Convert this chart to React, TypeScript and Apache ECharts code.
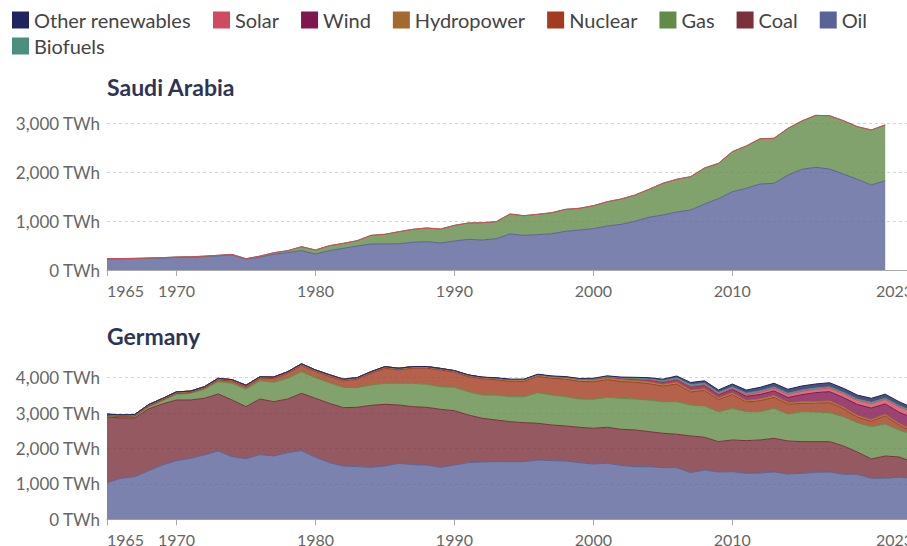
import React, { useEffect, useRef } from "react";
import * as echarts from "echarts";

const YEARS = [
  1965, 1966, 1967, 1968, 1969, 1970, 1971, 1972, 1973, 1974,
  1975, 1976, 1977, 1978, 1979, 1980, 1981, 1982, 1983, 1984,
  1985, 1986, 1987, 1988, 1989, 1990, 1991, 1992, 1993, 1994,
  1995, 1996, 1997, 1998, 1999, 2000, 2001, 2002, 2003, 2004,
  2005, 2006, 2007, 2008, 2009, 2010, 2011, 2012, 2013, 2014,
  2015, 2016, 2017, 2018, 2019, 2020, 2021, 2022, 2023,
];
const X_TICKS = [1965, 1970, 1980, 1990, 2000, 2010, 2023];

// Saudi Arabia (1965-2021), TWh
const SA_OIL = [
  225, 228, 231, 238, 245, 257, 260, 273, 290, 307,
  222, 262, 322, 356, 395, 327, 395, 443, 491, 532,
  532, 538, 566, 580, 552, 593, 627, 613, 640, 736,
  709, 722, 742, 791, 818, 845, 900, 934, 996, 1078,
  1125, 1186, 1227, 1350, 1458, 1601, 1671, 1759, 1773, 1943,
  2059, 2100, 2065, 1963, 1855, 1738, 1826,
];
const SA_GAS = [
  6, 6, 7, 7, 8, 9, 10, 10, 11, 12,
  9, 22, 32, 39, 82, 82, 102, 102, 108, 177,
  198, 245, 266, 279, 286, 320, 334, 354, 348, 409,
  402, 417, 430, 450, 444, 470, 497, 518, 538, 572,
  648, 669, 681, 736, 723, 819, 865, 926, 920, 954,
  988, 1063, 1090, 1090, 1075, 1125, 1139,
];
const SA_SOLAR = [
  0, 0, 0, 0, 0, 0, 0, 0, 0, 0,
  0, 0, 0, 0, 0, 0, 0, 0, 0, 0,
  0, 0, 0, 0, 0, 0, 0, 0, 0, 0,
  0, 0, 0, 0, 0, 0, 0, 0, 0, 0,
  0, 0, 0, 0, 0, 0, 0, 0, 0, 0,
  0, 0, 0, 0, 1, 2, 3,
];

// Germany (1965-2023), TWh
const DE_OIL = [
  1035, 1158, 1205, 1374, 1535, 1657, 1723, 1818, 1930, 1770,
  1713, 1827, 1790, 1883, 1939, 1752, 1601, 1506, 1488, 1469,
  1506, 1582, 1544, 1535, 1469, 1535, 1601, 1619, 1629, 1628,
  1628, 1676, 1657, 1647, 1600, 1563, 1582, 1525, 1487, 1487,
  1459, 1459, 1318, 1393, 1337, 1346, 1299, 1308, 1337, 1280,
  1299, 1327, 1337, 1271, 1271, 1159, 1159, 1190, 1160,
];
const DE_COAL = [
  1854, 1707, 1660, 1748, 1726, 1713, 1647, 1600, 1610, 1600,
  1469, 1571, 1533, 1515, 1620, 1666, 1675, 1648, 1675, 1751,
  1742, 1647, 1638, 1628, 1638, 1534, 1346, 1235, 1177, 1130,
  1101, 1036, 1008, 989, 999, 1008, 1017, 1017, 1037, 990,
  971, 943, 1037, 924, 857, 895, 923, 933, 951, 933,
  895, 867, 857, 800, 629, 544, 629, 570, 460,
];
const DE_GAS = [
  30, 35, 40, 60, 90, 160, 189, 254, 348, 471,
  490, 518, 547, 585, 611, 583, 584, 574, 556, 575,
  593, 612, 659, 650, 640, 659, 659, 657, 705, 706,
  735, 865, 846, 828, 799, 818, 847, 875, 874, 893,
  893, 921, 874, 884, 847, 894, 819, 800, 847, 762,
  847, 836, 818, 828, 829, 914, 904, 764, 760,
];
const DE_NUCLEAR = [
  10, 10, 15, 15, 20, 25, 20, 30, 50, 60,
  70, 70, 105, 140, 175, 170, 175, 180, 235, 330,
  425, 380, 425, 455, 470, 425, 425, 455, 430, 433,
  432, 457, 473, 494, 499, 496, 501, 473, 473, 461,
  439, 499, 368, 439, 341, 389, 269, 310, 309, 275,
  234, 250, 282, 220, 156, 150, 232, 138, 90,
];
const DE_HYDRO = [
  40, 42, 42, 44, 44, 45, 42, 42, 44, 44,
  45, 40, 44, 45, 48, 48, 50, 50, 48, 46,
  46, 46, 48, 48, 45, 45, 44, 45, 48, 50,
  50, 48, 47, 48, 50, 52, 50, 52, 45, 50,
  48, 50, 50, 50, 46, 50, 44, 50, 52, 46,
  45, 48, 48, 44, 48, 45, 46, 43, 45,
];
const DE_WIND = [
  0, 0, 0, 0, 0, 0, 0, 0, 0, 0,
  0, 0, 0, 0, 0, 0, 0, 0, 0, 0,
  0, 0, 0, 0, 0, 0, 1, 1, 2, 3,
  4, 5, 7, 12, 14, 25, 28, 40, 48, 60,
  68, 75, 100, 100, 95, 95, 120, 125, 130, 145,
  200, 250, 265, 275, 310, 330, 290, 320, 340,
];
const DE_SOLAR = [
  0, 0, 0, 0, 0, 0, 0, 0, 0, 0,
  0, 0, 0, 0, 0, 0, 0, 0, 0, 0,
  0, 0, 0, 0, 0, 0, 0, 0, 0, 0,
  0, 0, 0, 0, 0, 0, 1, 1, 2, 3,
  5, 6, 8, 12, 18, 30, 50, 65, 75, 85,
  95, 95, 100, 110, 115, 125, 125, 150, 155,
];
const DE_BIOFUELS = [
  0, 0, 0, 0, 0, 0, 0, 0, 0, 0,
  0, 0, 0, 0, 0, 0, 0, 0, 0, 0,
  0, 0, 0, 0, 0, 0, 0, 0, 0, 0,
  0, 0, 0, 1, 2, 5, 7, 10, 15, 22,
  30, 40, 45, 40, 38, 38, 38, 37, 37, 37,
  36, 35, 36, 36, 36, 36, 36, 36, 35,
];
const DE_OTHER = [
  0, 0, 0, 0, 0, 0, 0, 0, 0, 0,
  0, 0, 0, 0, 0, 0, 0, 0, 0, 0,
  0, 0, 0, 0, 0, 5, 5, 6, 8, 9,
  10, 12, 12, 13, 15, 18, 20, 25, 30, 35,
  45, 55, 65, 70, 75, 85, 90, 100, 105, 110,
  115, 115, 115, 115, 115, 115, 115, 110, 105,
];

const LEGEND_ROW1 = ["Other renewables", "Solar", "Wind", "Hydropower", "Nuclear", "Gas", "Coal", "Oil"];
const LEGEND_ROW2 = ["Biofuels"];

const COLORS: Record<string, string> = {
  "Other renewables": "#1f2460",
  Solar: "#cf4b5f",
  Wind: "#801550",
  Hydropower: "#a36a2e",
  Nuclear: "#a33b1f",
  Gas: "#618b47",
  Coal: "#7b303b",
  Oil: "#5a6398",
  Biofuels: "#4b8f80",
};

const FONT = "Lato, 'Noto Sans', sans-serif";

function makeSeries(name: string, values: number[], idx: number, stack: string) {
  return {
    type: "line",
    name,
    stack,
    xAxisIndex: idx,
    yAxisIndex: idx,
    data: values,
    showSymbol: false,
    symbol: "none",
    clip: false,
    color: COLORS[name],
    lineStyle: { width: 1, color: COLORS[name] },
    areaStyle: { color: COLORS[name], opacity: 0.8 },
    emphasis: { disabled: true },
  };
}

function fmtTWh(v: number) {
  const s = String(Math.round(v)).replace(/\B(?=(\d{3})+(?!\d))/g, ",");
  return s + " TWh";
}

const isTick = (_i: number, v: string) => X_TICKS.indexOf(Number(v)) >= 0;

function xAxisCfg(idx: number) {
  return {
    type: "category",
    gridIndex: idx,
    data: YEARS.map(String),
    boundaryGap: false,
    splitLine: { show: false },
    axisLine: { show: true, lineStyle: { color: "#aaa", width: 1 } },
    axisTick: { show: true, length: 6, lineStyle: { color: "#aaa" }, interval: isTick },
    axisLabel: {
      interval: isTick,
      fontSize: 16,
      color: "#666",
      fontFamily: FONT,
      margin: 12,
      alignMinLabel: "left",
      alignMaxLabel: "right",
    },
  };
}

function yAxisCfg(idx: number, max: number) {
  return {
    type: "value",
    gridIndex: idx,
    min: 0,
    max,
    interval: 1000,
    axisLine: { show: false },
    axisTick: { show: false },
    splitLine: { show: true, lineStyle: { type: [3, 3], color: "#d6d6d6", width: 1 } },
    axisLabel: { formatter: fmtTWh, fontSize: 17, color: "#666", fontFamily: FONT, margin: 7 },
  };
}

export default function App() {
  const ref = useRef<HTMLDivElement>(null);
  useEffect(() => {
    if (!ref.current) return;
    const chart = echarts.init(ref.current, undefined, { renderer: "svg" });
    const legendCommon = {
      orient: "horizontal",
      padding: 0,
      itemWidth: 17,
      itemHeight: 17,
      itemGap: 22,
      icon: "rect",
      selectedMode: false,
      textStyle: { fontSize: 20, color: "#444", fontFamily: FONT },
    };
    const option: any = {
      animation: false,
      backgroundColor: "#fff",
      legend: [
        {
          ...legendCommon,
          left: 12,
          top: 10,
          data: LEGEND_ROW1.map((n) => ({ name: n, itemStyle: { color: COLORS[n], opacity: 1 } })),
        },
        {
          ...legendCommon,
          left: 12,
          top: 36,
          data: LEGEND_ROW2.map((n) => ({ name: n, itemStyle: { color: COLORS[n], opacity: 1 } })),
        },
      ],
      graphic: [
        {
          type: "text",
          x: 107,
          y: 87,
          style: {
            text: "Saudi Arabia",
            fontSize: 23,
            fontWeight: "bold",
            fontFamily: FONT,
            fill: "#2d3556",
            verticalAlign: "middle",
            textVerticalAlign: "middle",
          },
        },
        {
          type: "text",
          x: 107,
          y: 336,
          style: {
            text: "Germany",
            fontSize: 23,
            fontWeight: "bold",
            fontFamily: FONT,
            fill: "#2d3556",
            verticalAlign: "middle",
            textVerticalAlign: "middle",
          },
        },
      ],
      grid: [
        { left: 107, top: 123.3, right: -6, height: 146.7, containLabel: false, outerBoundsMode: "none" },
        { left: 107, top: 377.7, right: -6, height: 141.6, containLabel: false, outerBoundsMode: "none" },
      ],
      xAxis: [xAxisCfg(0), xAxisCfg(1)],
      yAxis: [yAxisCfg(0, 3000), yAxisCfg(1, 4000)],
      series: [
        makeSeries("Oil", SA_OIL, 0, "sa"),
        makeSeries("Gas", SA_GAS, 0, "sa"),
        makeSeries("Solar", SA_SOLAR, 0, "sa"),
        makeSeries("Oil", DE_OIL, 1, "de"),
        makeSeries("Coal", DE_COAL, 1, "de"),
        makeSeries("Gas", DE_GAS, 1, "de"),
        makeSeries("Nuclear", DE_NUCLEAR, 1, "de"),
        makeSeries("Hydropower", DE_HYDRO, 1, "de"),
        makeSeries("Wind", DE_WIND, 1, "de"),
        makeSeries("Solar", DE_SOLAR, 1, "de"),
        makeSeries("Biofuels", DE_BIOFUELS, 1, "de"),
        makeSeries("Other renewables", DE_OTHER, 1, "de"),
      ],
    };
    chart.setOption(option);
    return () => chart.dispose();
  }, []);
  return (
    <div
      ref={ref}
      style={{ position: "fixed", left: 0, top: 0, width: 907, height: 546, background: "#fff" }}
    />
  );
}
